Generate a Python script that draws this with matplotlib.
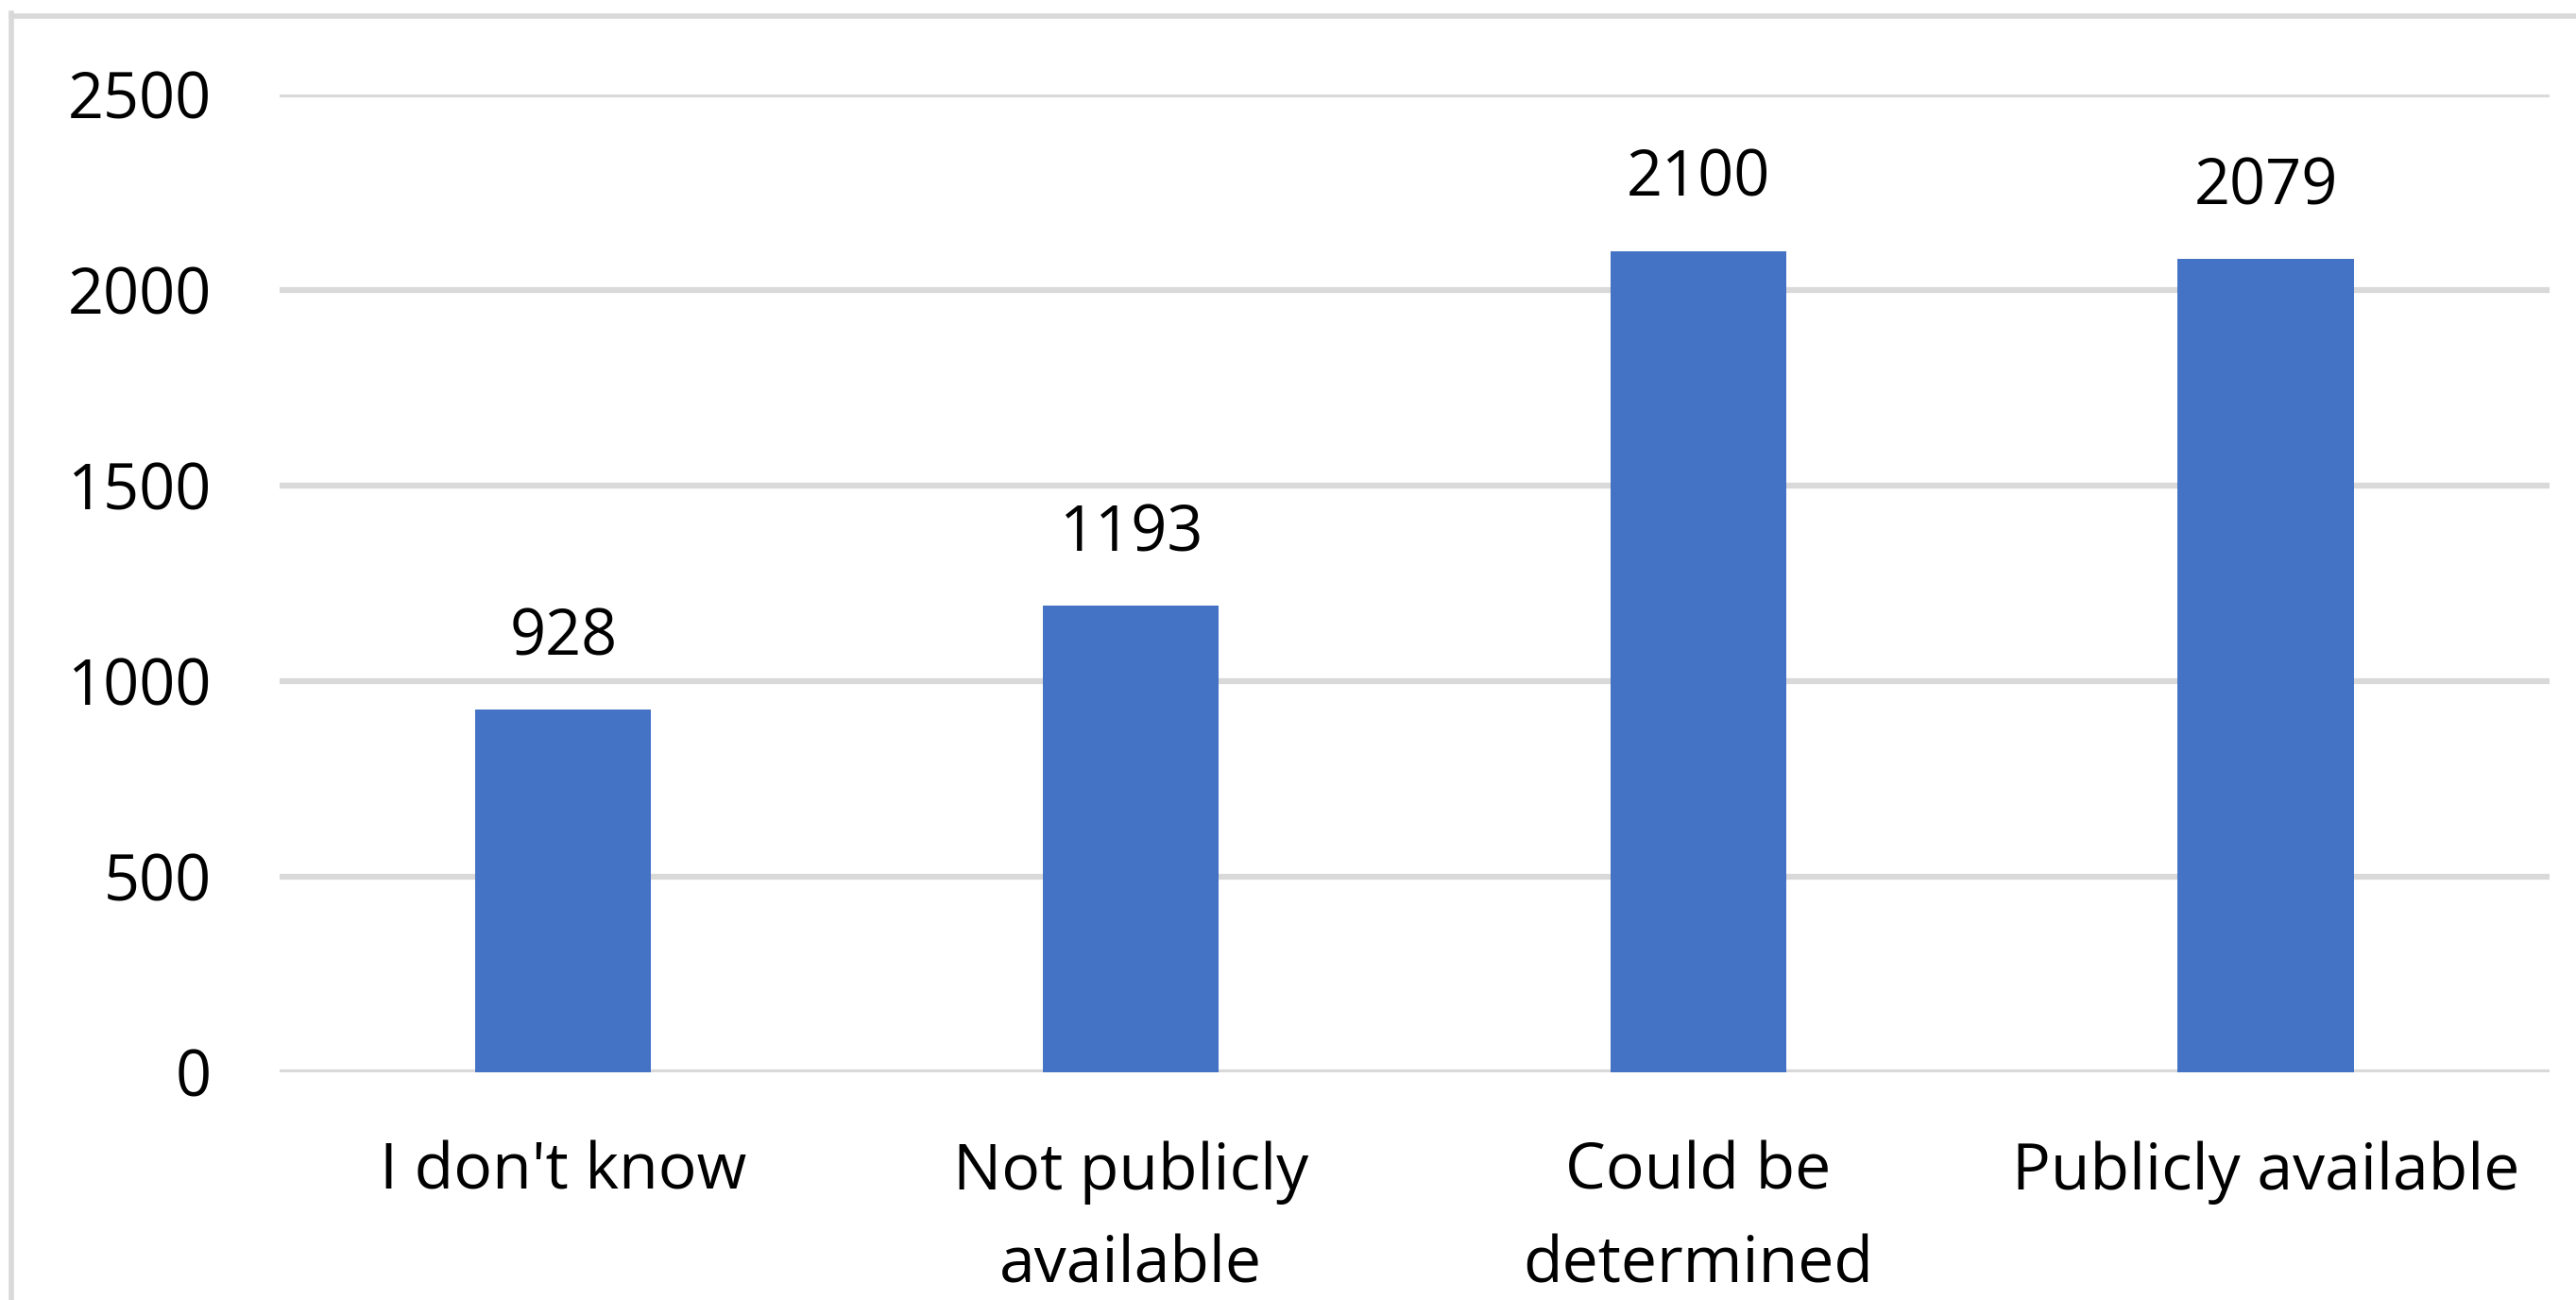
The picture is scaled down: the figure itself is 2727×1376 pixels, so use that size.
import numpy as np
import matplotlib.pyplot as plt
from matplotlib.lines import Line2D

categories = ["I don't know", "Not publicly\navailable", "Could be\ndetermined", "Publicly available"]
counts = [928, 1193, 2100, 2079]
yticks = [0, 500, 1000, 1500, 2000, 2500]

bar_color = "#4472C4"
grid_color = "#D9D9D9"

plt.rcParams['font.family'] = ['Open Sans', 'DejaVu Sans']

fig = plt.figure(figsize=(27.27, 13.76), dpi=100)
ax = fig.add_axes([0.1085, 0.1751, 0.9897 - 0.1085, 0.9273 - 0.1751])

x = np.arange(len(categories))
bars = ax.bar(x, counts, width=0.31, color=bar_color, zorder=3)

for xi, v in zip(x, counts):
    ax.annotate(str(v), (xi, v), xytext=(0, 30), textcoords='offset points',
                ha='center', va='bottom', fontsize=48, color='black')

ax.set_xlim(-0.5, len(categories) - 0.5)
ax.set_ylim(0, 2500)
ax.set_yticks(yticks)
ax.set_xticks(x)
ax.set_xticklabels(categories, fontsize=49, linespacing=1.6)
ax.tick_params(axis='y', labelsize=48, length=0, pad=52)
ax.tick_params(axis='x', length=0, pad=52)

ax.yaxis.grid(True, color=grid_color, linewidth=4.5, zorder=0)
ax.set_axisbelow(True)
for s in ax.spines.values():
    s.set_visible(False)

# light frame along the top and left edges
fig.add_artist(Line2D([12 / 2727, 1.0], [1 - 16.5 / 1376] * 2, transform=fig.transFigure,
                      color=grid_color, linewidth=4.0))
fig.add_artist(Line2D([12.5 / 2727] * 2, [0.0, 1 - 14 / 1376], transform=fig.transFigure,
                      color=grid_color, linewidth=4.0))

fig.savefig("out.png", dpi=100, facecolor='white')
